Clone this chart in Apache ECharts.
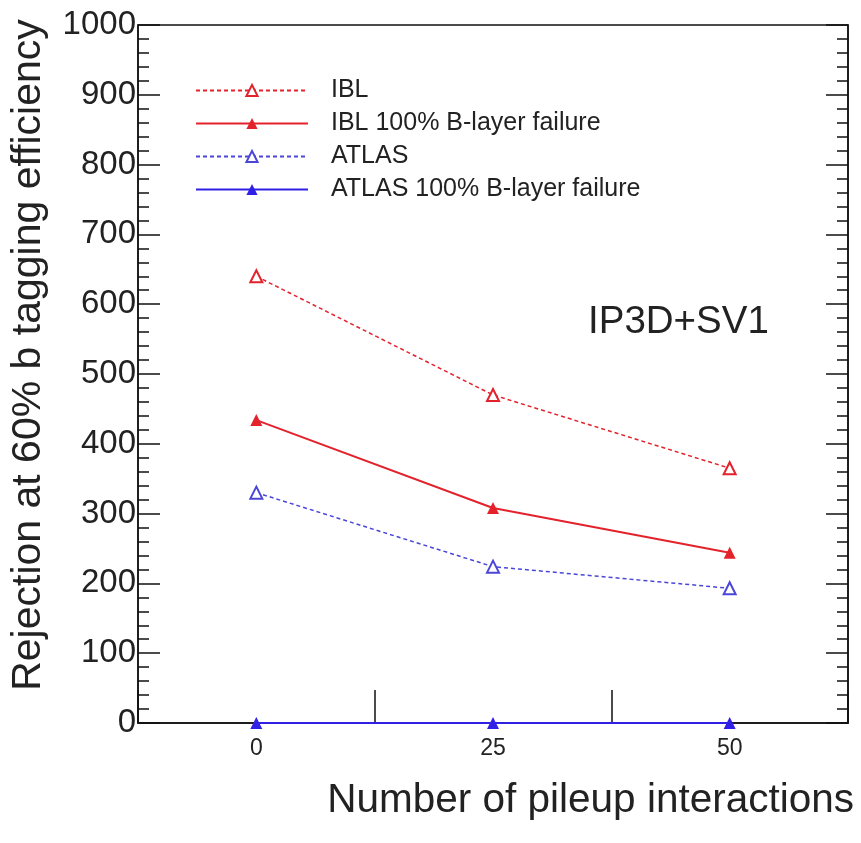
<!DOCTYPE html>
<html>
<head>
<meta charset="utf-8">
<script src="https://cdn.jsdelivr.net/npm/echarts@6/dist/echarts.min.js"></script>
<style>
html,body{margin:0;padding:0;background:#fff;}
#chart{width:861px;height:843px;}
</style>
</head>
<body>
<div id="chart"></div>
<script>
// Data
const pileup = [0, 25, 50];
const xTickLabels = ['0', '25', '50'];
const seriesNames = ['IBL', 'IBL 100% B-layer failure', 'ATLAS', 'ATLAS 100% B-layer failure'];
const iblValues = [640, 470, 365];
const iblFailValues = [434, 308, 244];
const atlasValues = [330, 224, 193];
const atlasFailValues = [0, 0, 0];
const annotation = 'IP3D+SV1';

const FONT = '"Liberation Sans", Arial, Helvetica, sans-serif';
const RED = '#e3222c';
const BLUE_D = '#4b46d8';
const BLUE = '#3020e6';

function pts(vals) { return pileup.map((x, i) => [x, vals[i]]); }

const chart = echarts.init(document.getElementById('chart'), null, {renderer: 'canvas'});

const option = {
  backgroundColor: '#fff',
  animation: false,
  textStyle: {fontFamily: FONT},
  grid: {left: 137, right: 13, top: 25, bottom: 120, show: true, borderColor: '#111', borderWidth: 1.5, backgroundColor: 'transparent'},
  title: {
    text: annotation, left: 583, top: 298,
    textStyle: {fontFamily: FONT, fontSize: 38.5, fontWeight: 'normal', color: '#222'}
  },
  legend: {
    orient: 'vertical', left: 190, top: 73,
    itemWidth: 112, itemHeight: 14, itemGap: 8,
    data: seriesNames,
    textStyle: {fontFamily: FONT, fontSize: 25, lineHeight: 20, color: '#222', padding: [0, 0, 0, 18]}
  },
  xAxis: [
    {
      type: 'value', min: -12.5, max: 62.5, interval: 12.5,
      name: 'Number of pileup interactions', nameLocation: 'end', nameGap: 0,
      nameTextStyle: {fontFamily: FONT, fontSize: 40.5, color: '#222', align: 'right', verticalAlign: 'top', padding: [57, -6, 0, 0]},
      axisLine: {show: true, onZero: false, lineStyle: {color: '#111', width: 1.5}},
      axisTick: {show: false},
      splitLine: {show: false},
      axisLabel: {
        fontFamily: FONT, fontSize: 23, color: '#222', margin: 14,
        formatter: function (v) { const i = pileup.indexOf(v); return i >= 0 ? xTickLabels[i] : ''; }
      }
    },
    {
      type: 'value', min: -12.5, max: 62.5, interval: 25, position: 'bottom',
      axisLine: {show: false, onZero: false},
      axisTick: {show: true, inside: true, length: 33, lineStyle: {color: '#111', width: 1.5}},
      axisLabel: {show: false},
      splitLine: {show: false}
    }
  ],
  yAxis: [
    {
      type: 'value', min: 0, max: 1000, interval: 100,
      name: 'Rejection at 60% b tagging efficiency', nameLocation: 'middle', nameGap: 89,
      nameTextStyle: {fontFamily: FONT, fontSize: 41, color: '#222', padding: [0, 0, 0, 38]},
      axisLine: {show: true, onZero: false, lineStyle: {color: '#111', width: 1.5}},
      axisTick: {show: true, inside: true, length: 22, lineStyle: {color: '#111', width: 1.5}},
      minorTick: {show: true, splitNumber: 5, length: 11, lineStyle: {color: '#111', width: 1.5}},
      splitLine: {show: false},
      axisLabel: {fontFamily: FONT, fontSize: 33, color: '#222', margin: 2, formatter: function (v) { return String(v); }}
    },
    {
      type: 'value', min: 0, max: 1000, interval: 100, position: 'right',
      axisLine: {show: true, onZero: false, lineStyle: {color: '#111', width: 1.5}},
      axisTick: {show: true, inside: true, length: 22, lineStyle: {color: '#111', width: 1.5}},
      minorTick: {show: true, splitNumber: 5, length: 11, lineStyle: {color: '#111', width: 1.5}},
      splitLine: {show: false},
      axisLabel: {show: false}
    }
  ],
  series: [
    {
      name: seriesNames[0], type: 'line', data: pts(iblValues), z: 5,
      symbol: 'emptyTriangle', symbolSize: 12,
      lineStyle: {color: RED, width: 1.5, type: [4, 3]},
      itemStyle: {color: RED, borderColor: RED, borderWidth: 1.8}
    },
    {
      name: seriesNames[1], type: 'line', data: pts(iblFailValues), z: 5,
      symbol: 'triangle', symbolSize: 12,
      lineStyle: {color: RED, width: 2, type: 'solid'},
      itemStyle: {color: RED}
    },
    {
      name: seriesNames[2], type: 'line', data: pts(atlasValues), z: 5,
      symbol: 'emptyTriangle', symbolSize: 12,
      lineStyle: {color: BLUE_D, width: 1.5, type: [4, 3]},
      itemStyle: {color: BLUE_D, borderColor: BLUE_D, borderWidth: 1.8}
    },
    {
      name: seriesNames[3], type: 'line', data: pts(atlasFailValues), z: 6,
      symbol: 'triangle', symbolSize: 12,
      lineStyle: {color: BLUE, width: 2, type: 'solid'},
      itemStyle: {color: BLUE}
    }
  ]
};
chart.setOption(option);
</script>
</body>
</html>
